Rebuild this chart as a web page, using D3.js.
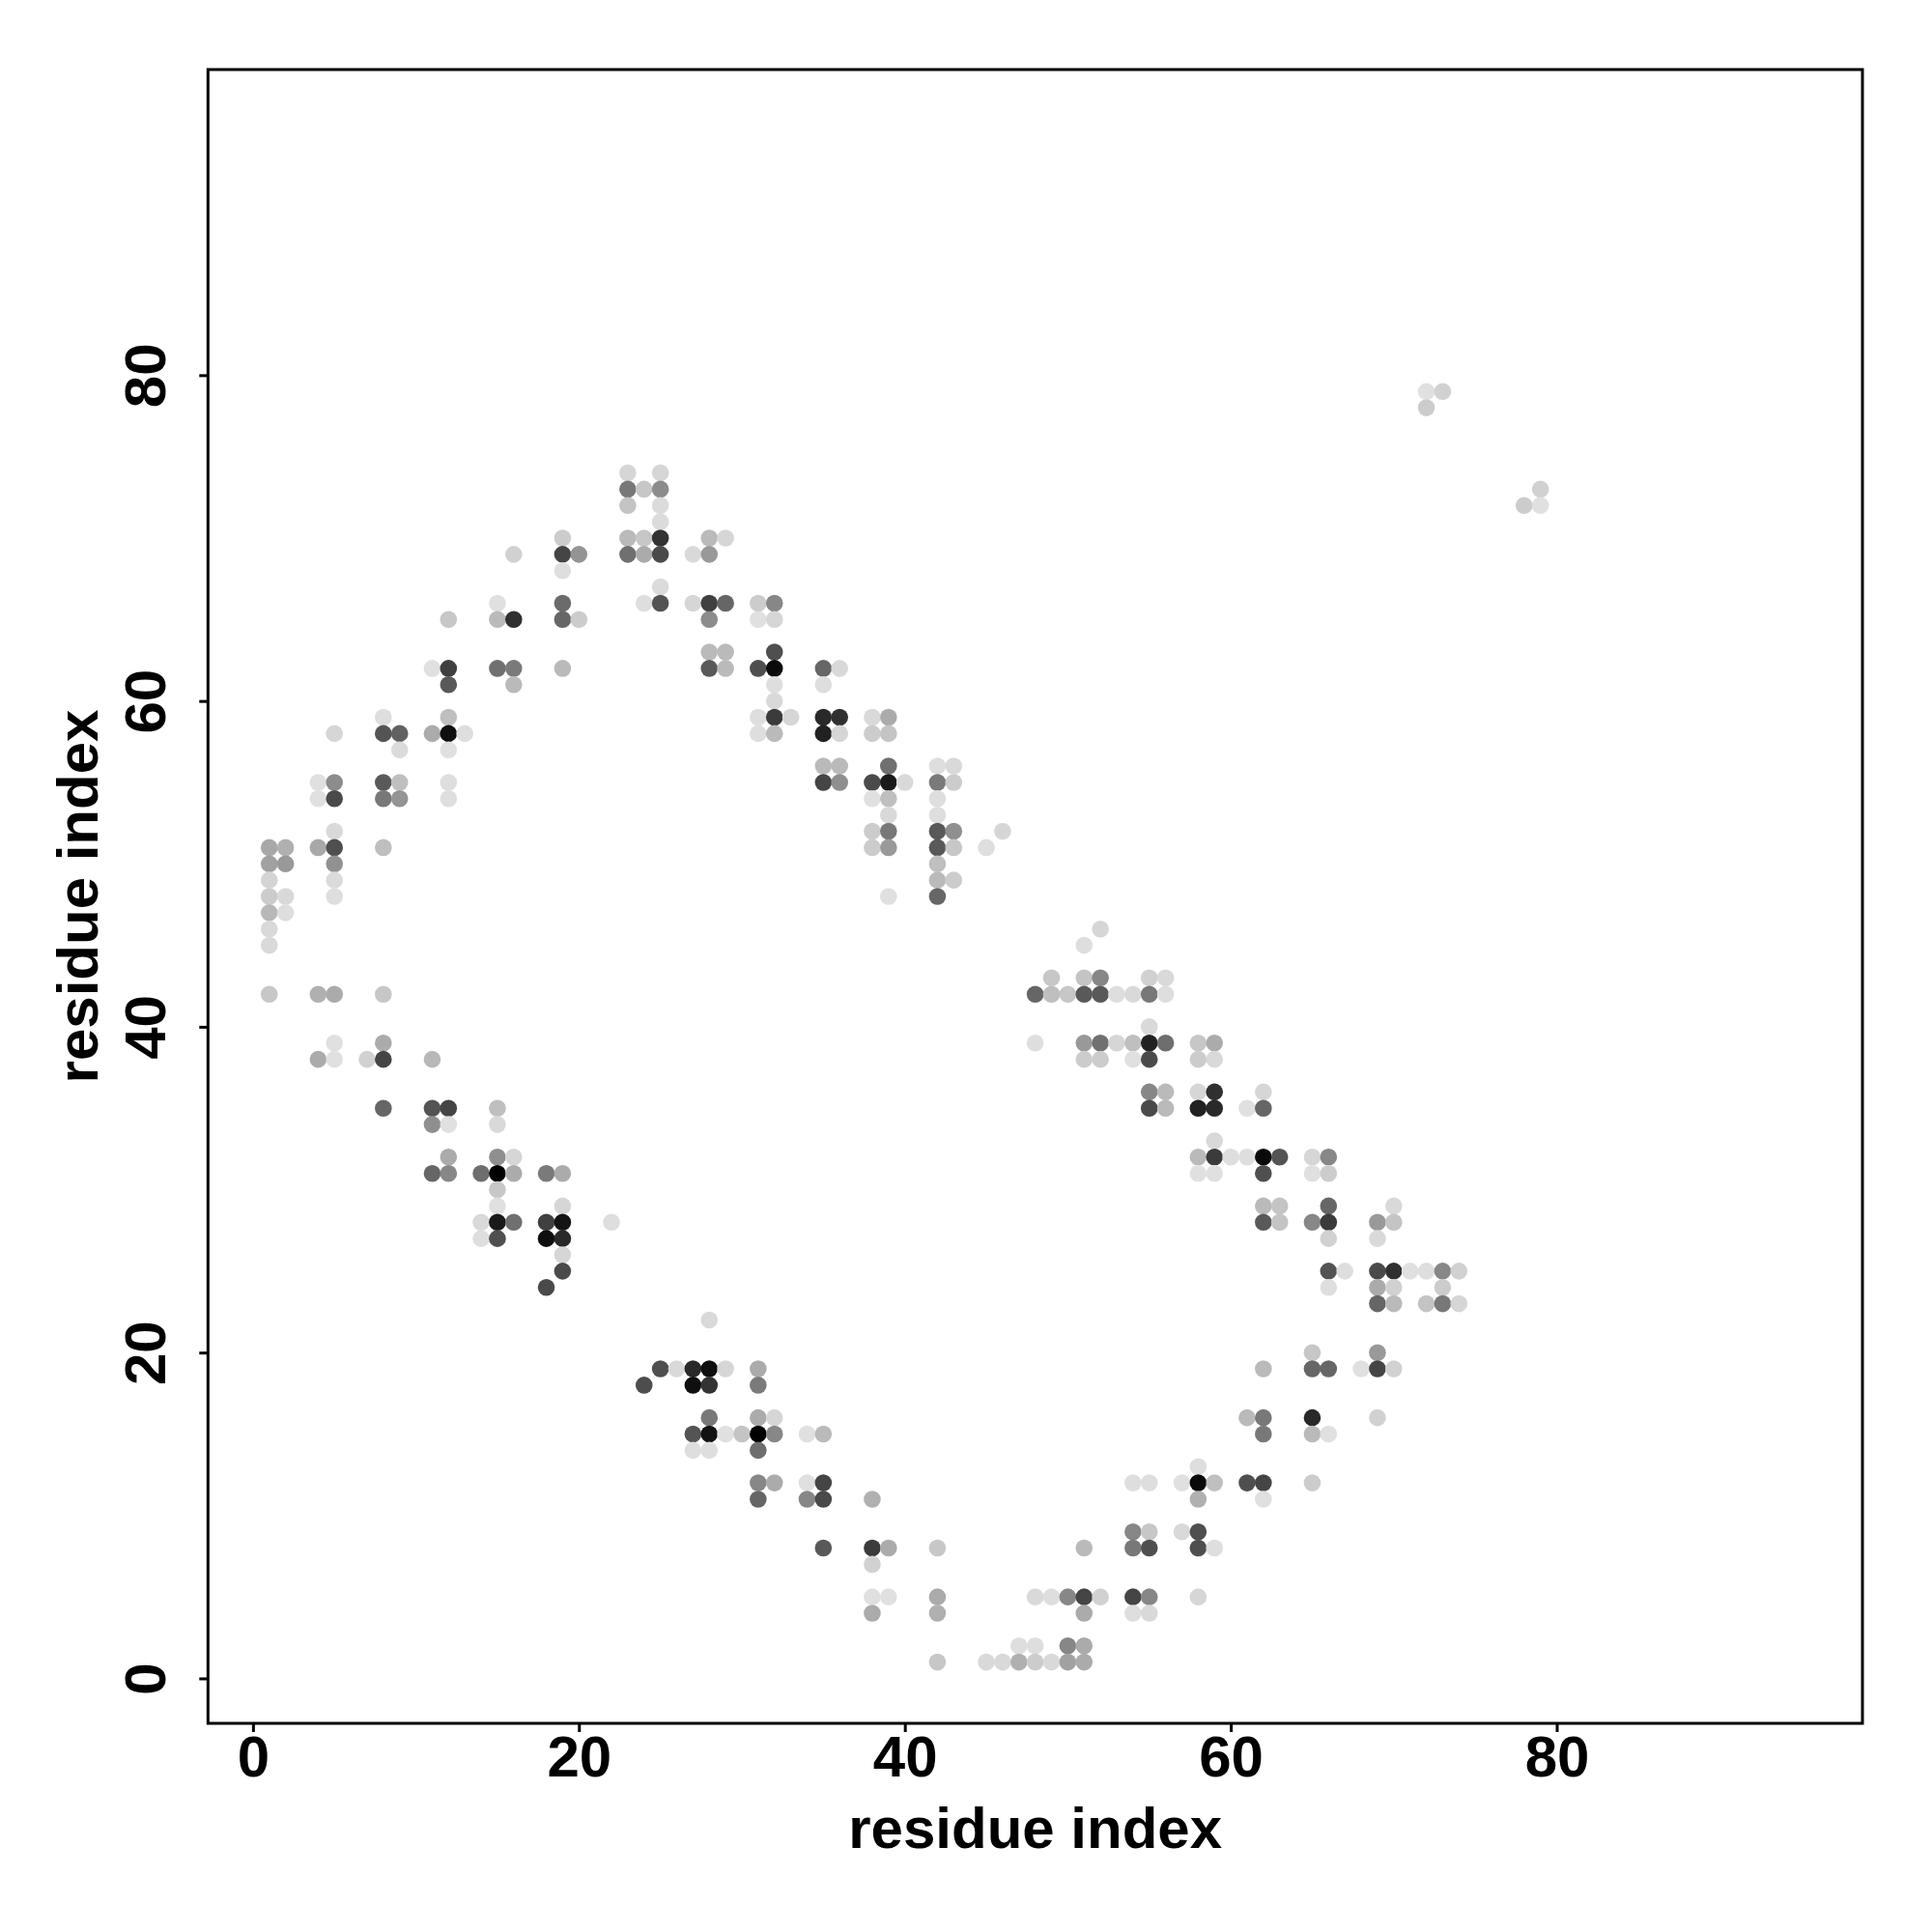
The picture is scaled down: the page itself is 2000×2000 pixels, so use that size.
<!DOCTYPE html>
<html>
<head>
<meta charset="utf-8">
<script src="https://cdn.jsdelivr.net/npm/d3@7"></script>
<style>
  html, body { margin: 0; padding: 0; background: #ffffff; }
  svg { display: block; }
  text { font-family: "Liberation Sans", Arial, Helvetica, sans-serif; font-weight: bold; fill: #000; }
</style>
</head>
<body>
<svg id="chart" width="2000" height="2000"></svg>
<script>
// residue index i (x), residue index j (y), contact strength (0 = white .. 1 = black)
const resI = [
  23,25,23,24,25,23,25,25,19,23,
  24,25,28,29,16,19,20,23,24,25,
  27,28,19,25,15,19,24,25,27,28,
  29,31,32,12,15,16,19,20,28,31,
  32,28,29,32,11,12,15,16,19,28,
  29,31,32,35,36,12,16,32,35,32,
  8,12,31,32,33,35,36,38,39,5,
  8,9,11,12,13,31,32,35,36,38,
  39,9,12,35,36,39,42,43,4,5,
  8,9,12,35,36,38,39,40,42,43,
  4,5,8,9,12,38,39,42,39,42,
  5,38,39,42,43,46,1,2,4,5,
  8,38,39,42,43,45,1,2,5,42,
  1,5,42,43,1,2,5,39,42,1,
  2,1,52,1,51,49,51,52,55,56,
  1,4,5,8,48,49,50,51,52,53,
  54,55,56,55,5,8,48,51,52,53,
  54,55,56,58,59,4,5,7,8,11,
  51,52,54,55,58,59,55,56,58,59,
  62,8,11,12,15,55,56,58,59,61,
  62,11,12,15,59,12,15,16,58,59,
  60,61,62,63,65,66,11,12,14,15,
  16,18,19,58,59,62,65,66,15,15,
  19,62,63,66,70,14,15,16,18,19,
  22,62,63,65,66,69,70,14,15,18,
  19,66,69,19,19,66,67,69,70,71,
  72,73,74,18,66,69,70,73,69,70,
  72,73,74,28,65,69,25,26,27,28,
  29,31,62,65,66,68,69,70,24,27,
  28,31,28,31,32,61,62,65,69,27,
  28,29,30,31,32,34,35,62,65,66,
  27,28,31,58,31,32,34,35,54,55,
  57,58,59,61,62,65,31,34,35,38,
  58,62,54,55,57,58,35,38,39,42,
  51,54,55,58,59,38,38,39,42,48,
  49,50,51,52,54,55,58,38,42,51,
  54,55,47,48,50,51,42,45,46,47,
  48,49,50,51,72,73,72,79,78,79
];
const resJ = [
  74,74,73,73,73,72,72,71,70,70,
  70,70,70,70,69,69,69,69,69,69,
  69,69,68,67,66,66,66,66,66,66,
  66,66,66,65,65,65,65,65,65,65,
  65,63,63,63,62,62,62,62,62,62,
  62,62,62,62,62,61,61,61,61,60,
  59,59,59,59,59,59,59,59,59,58,
  58,58,58,58,58,58,58,58,58,58,
  58,57,57,56,56,56,56,56,55,55,
  55,55,55,55,55,55,55,55,55,55,
  54,54,54,54,54,54,54,54,53,53,
  52,52,52,52,52,52,51,51,51,51,
  51,51,51,51,51,51,50,50,50,50,
  49,49,49,49,48,48,48,48,48,47,
  47,46,46,45,45,43,43,43,43,43,
  42,42,42,42,42,42,42,42,42,42,
  42,42,42,40,39,39,39,39,39,39,
  39,39,39,39,39,38,38,38,38,38,
  38,38,38,38,38,38,36,36,36,36,
  36,35,35,35,35,35,35,35,35,35,
  35,34,34,34,33,32,32,32,32,32,
  32,32,32,32,32,32,31,31,31,31,
  31,31,31,31,31,31,31,31,30,29,
  29,29,29,29,29,28,28,28,28,28,
  28,28,28,28,28,28,28,27,27,27,
  27,27,27,26,25,25,25,25,25,25,
  25,25,25,24,24,24,24,24,23,23,
  23,23,23,22,20,20,19,19,19,19,
  19,19,19,19,19,19,19,19,18,18,
  18,18,16,16,16,16,16,16,16,15,
  15,15,15,15,15,15,15,15,15,15,
  14,14,14,13,12,12,12,12,12,12,
  12,12,12,12,12,12,11,11,11,11,
  11,11,9,9,9,9,8,8,8,8,
  8,8,8,8,8,7,5,5,5,5,
  5,5,5,5,5,5,5,4,4,4,
  4,4,2,2,2,2,1,1,1,1,
  1,1,1,1,79,79,78,73,72,72
];
const strength = [
  .16,.16,.53,.22,.45,.23,.14,.14,.20,.27,
  .22,.80,.27,.16,.18,.73,.42,.56,.33,.71,
  .15,.40,.13,.14,.12,.58,.13,.67,.16,.75,
  .60,.20,.47,.22,.27,.81,.60,.20,.45,.12,
  .16,.27,.27,.69,.12,.75,.56,.52,.27,.65,
  .27,.69,.96,.60,.15,.65,.27,.13,.13,.15,
  .13,.25,.13,.77,.16,.84,.81,.15,.33,.16,
  .67,.62,.33,.94,.13,.13,.27,.87,.16,.20,
  .23,.14,.12,.27,.27,.56,.13,.15,.12,.45,
  .65,.25,.13,.73,.44,.71,.90,.15,.52,.20,
  .12,.71,.53,.42,.13,.12,.25,.13,.15,.13,
  .15,.20,.53,.65,.44,.16,.34,.31,.34,.69,
  .25,.20,.40,.65,.22,.13,.37,.40,.43,.25,
  .17,.14,.27,.20,.20,.15,.13,.12,.60,.28,
  .13,.15,.16,.15,.13,.22,.23,.47,.18,.15,
  .22,.31,.33,.22,.60,.25,.22,.65,.65,.13,
  .15,.53,.13,.15,.12,.33,.13,.40,.56,.16,
  .25,.87,.57,.22,.33,.33,.12,.18,.73,.28,
  .20,.20,.12,.71,.20,.15,.47,.27,.16,.81,
  .16,.60,.67,.73,.25,.71,.27,.87,.84,.12,
  .60,.44,.12,.15,.15,.33,.44,.16,.27,.77,
  .13,.13,.96,.67,.16,.47,.60,.47,.57,1.00,
  .33,.52,.33,.12,.12,.69,.12,.20,.22,.12,
  .16,.27,.23,.60,.15,.15,.90,.56,.75,.92,
  .13,.65,.23,.47,.77,.40,.23,.13,.69,.94,
  .84,.18,.15,.16,.71,.67,.13,.71,.81,.12,
  .13,.47,.18,.71,.13,.33,.18,.20,.60,.27,
  .23,.53,.16,.15,.22,.40,.69,.15,.84,.94,
  .16,.33,.27,.60,.60,.12,.73,.18,.70,.94,
  .80,.52,.53,.33,.16,.27,.53,.84,.18,.67,
  .93,.12,.23,1.00,.47,.12,.27,.53,.27,.12,
  .13,.13,.57,.13,.47,.33,.12,.73,.13,.13,
  .12,.96,.25,.69,.73,.20,.60,.47,.71,.31,
  .31,.12,.47,.22,.15,.69,.65,.77,.33,.22,
  .27,.53,.69,.69,.13,.18,.12,.12,.33,.15,
  .13,.47,.73,.18,.73,.47,.16,.33,.31,.33,
  .13,.15,.13,.13,.47,.33,.22,.15,.15,.31,
  .20,.15,.37,.33,.12,.18,.20,.18,.20,.12
];
const tickValues = [0, 20, 40, 60, 80];
const xTitle = "residue index";
const yTitle = "residue index";

const svg = d3.select("#chart");
svg.append("rect").attr("width", 2000).attr("height", 2000).attr("fill", "#ffffff");

const L = 215.3, R = 1928, T = 72, B = 1784;
const dom = [-2.76, 98.76];
const x = d3.scaleLinear().domain(dom).range([L, R]);
const y = d3.scaleLinear().domain(dom).range([B, T]);
const shade = d3.scaleLinear().domain([0, 1]).range(["#ffffff", "#000000"]);

const pts = resI.map((d, k) => ({ i: d, j: resJ[k], s: strength[k] }));

svg.append("g").selectAll("circle").data(pts).join("circle")
  .attr("cx", d => x(d.i))
  .attr("cy", d => y(d.j))
  .attr("r", 8.8)
  .attr("fill", d => shade(d.s));

// axes
const gx = svg.append("g").attr("transform", `translate(0,${B})`)
  .call(d3.axisBottom(x).tickValues(tickValues).tickSize(9).tickFormat(d3.format("d")));
gx.select(".domain").remove();
gx.selectAll(".tick line").attr("stroke", "#000").attr("stroke-width", 3);
gx.selectAll(".tick text").attr("y", 55).attr("dy", 0).attr("font-size", 60)
  .style("font-family", "'Liberation Sans', Arial, sans-serif").style("font-weight", "bold");

const gy = svg.append("g").attr("transform", `translate(${L},0)`)
  .call(d3.axisLeft(y).tickValues(tickValues).tickSize(9).tickFormat(d3.format("d")));
gy.select(".domain").remove();
gy.selectAll(".tick line").attr("stroke", "#000").attr("stroke-width", 3);
gy.selectAll(".tick text")
  .attr("x", 0).attr("y", -44.5).attr("dy", 0)
  .attr("transform", "rotate(-90)")
  .attr("text-anchor", "middle")
  .attr("font-size", 60)
  .style("font-family", "'Liberation Sans', Arial, sans-serif").style("font-weight", "bold");

// frame
svg.append("rect").attr("x", L).attr("y", T).attr("width", R - L).attr("height", B - T)
  .attr("fill", "none").attr("stroke", "#000").attr("stroke-width", 3);

// titles
svg.append("text").attr("x", (L + R) / 2).attr("y", 1913)
  .attr("text-anchor", "middle").attr("font-size", 60).text(xTitle);
svg.append("text")
  .attr("transform", `translate(101,${(T + B) / 2}) rotate(-90)`)
  .attr("text-anchor", "middle").attr("font-size", 60).text(yTitle);
</script>
</body>
</html>
